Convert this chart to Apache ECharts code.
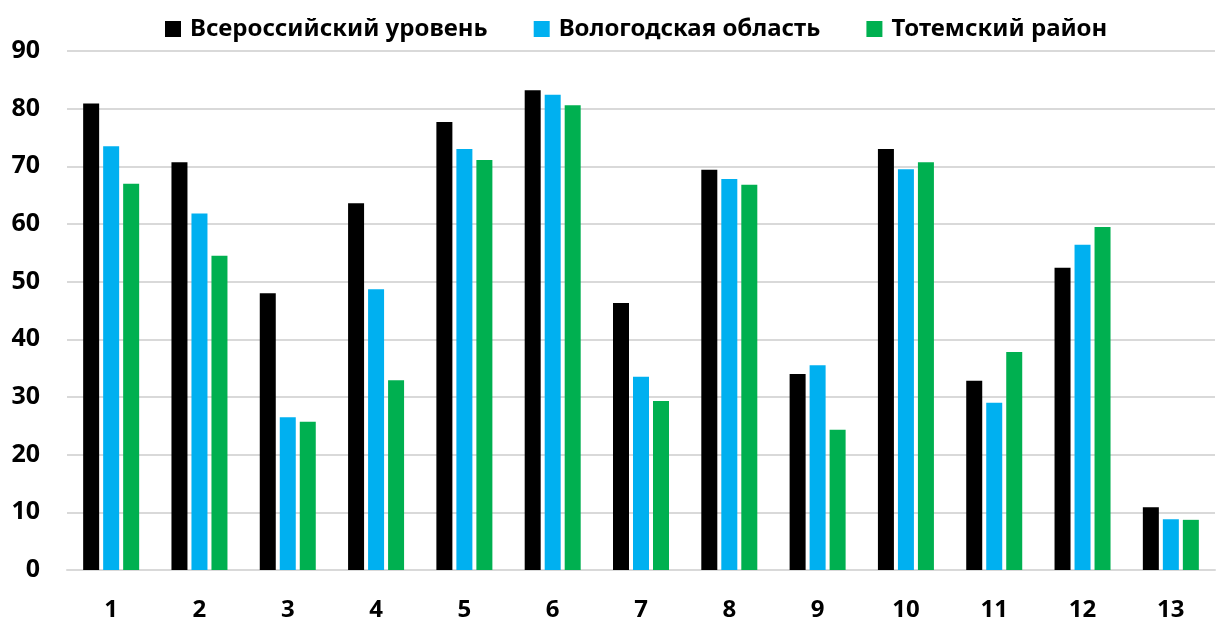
<!DOCTYPE html>
<html>
<head>
<meta charset="utf-8">
<script src="https://cdn.jsdelivr.net/npm/echarts@6/dist/echarts.min.js"></script>
<style>
    html, body {margin: 0; padding: 0; background: #fff;}
    #chart {width: 1225px; height: 618px;}
</style>
</head>
<body>
<div id="chart"></div>
<script>
    const categories = ['1', '2', '3', '4', '5', '6', '7', '8', '9', '10', '11', '12', '13']
    const russia = [80.9, 70.7, 48.0, 63.6, 77.7, 83.2, 46.3, 69.4, 34.0, 73.0, 32.8, 52.4, 10.9]
    const vologda = [73.5, 61.8, 26.5, 48.7, 73.0, 82.4, 33.5, 67.8, 35.5, 69.5, 29.0, 56.4, 8.8]
    const totma = [67.0, 54.5, 25.7, 32.9, 71.1, 80.6, 29.3, 66.8, 24.3, 70.7, 37.8, 59.5, 8.7]
    const seriesNames = ['Всероссийский уровень', 'Вологодская область', 'Тотемский район']

    const font = 'Noto Sans'
    const chart = echarts.init(document.getElementById('chart'))

    function bar(name, data, color) {
        return {
            name: name,
            type: 'bar',
            data: data,
            barWidth: 16,
            barGap: '25%',
            itemStyle: {color: color}
        }
    }

    chart.setOption({
        animation: false,
        legend: {
            top: 12,
            left: 160,
            itemWidth: 16,
            itemHeight: 16,
            itemGap: 46,
            icon: 'rect',
            textStyle: {
                fontFamily: font,
                fontWeight: 'bold',
                fontSize: 24,
                color: '#000',
                padding: [0, 0, 0, 4]
            },
            data: seriesNames
        },
        grid: {left: 67, right: 10, top: 51, bottom: 48, outerBoundsMode: 'none'},
        xAxis: {
            type: 'category',
            data: categories,
            axisTick: {show: false},
            axisLine: {lineStyle: {color: '#d9d9d9', width: 2}},
            axisLabel: {
                margin: 28,
                fontFamily: font,
                fontWeight: 'bold',
                fontSize: 24,
                color: '#000'
            }
        },
        yAxis: {
            type: 'value',
            min: 0,
            max: 90,
            interval: 10,
            axisLine: {show: false},
            axisTick: {show: false},
            splitLine: {lineStyle: {color: '#d9d9d9', width: 2}},
            axisLabel: {
                margin: 27,
                fontFamily: font,
                fontWeight: 'bold',
                fontSize: 25,
                color: '#000'
            }
        },
        series: [
            bar(seriesNames[0], russia, '#000000'),
            bar(seriesNames[1], vologda, '#00b0f0'),
            bar(seriesNames[2], totma, '#00b050')
        ]
    })
</script>
</body>
</html>
